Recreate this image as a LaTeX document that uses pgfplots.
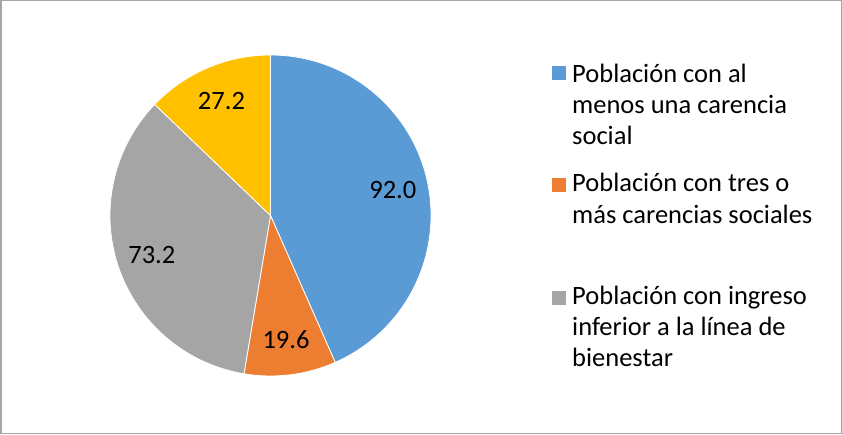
\documentclass[border=0pt]{standalone}
\usepackage{fontspec}
\setmainfont{Carlito}
\usepackage{pgfplots}
\usepackage{pgfplotstable}
\pgfplotsset{compat=1.18}

\definecolor{c0}{HTML}{5B9BD5}
\definecolor{c1}{HTML}{ED7D31}
\definecolor{c2}{HTML}{A5A5A5}
\definecolor{c3}{HTML}{FFC000}
\definecolor{frame}{HTML}{A6A6A6}

\pgfplotstableread{
value
92.0
19.6
73.2
27.2
}\piedata

\newcommand\bigfont{\fontsize{26.5}{31}\selectfont}

\begin{document}
\begin{tikzpicture}
% total of the slices
\def\total{0}
\pgfplotsforeachungrouped \i in {0,...,3}{%
  \pgfplotstablegetelem{\i}{value}\of\piedata
  \pgfmathsetmacro\total{\total+\pgfplotsretval}%
}
\def\cum{0}
\begin{axis}[scale only axis, width=842pt, height=434pt,
    xmin=0, xmax=842, ymin=0, ymax=434, axis lines=none, clip=false]
  \pgfplotsforeachungrouped \i in {0,...,3}{%
    \pgfplotstablegetelem{\i}{value}\of\piedata
    \let\v\pgfplotsretval
    \pgfmathsetmacro\a{90-360*(\cum/\total)}%
    \pgfmathsetmacro\b{90-360*((\cum+\v)/\total)}%
    \pgfmathsetmacro\m{(\a+\b)/2}%
    \edef\temp{%
      \noexpand\fill[fill=c\i, draw=white, line width=0.8pt]
        (axis cs:270.5,218.5) -- ([shift={(\a:160.5pt)}]axis cs:270.5,218.5)
        arc[start angle=\a, end angle=\b, radius=160.5pt] -- cycle;
      \noexpand\node[font=\noexpand\bigfont, inner sep=0pt]
        at ([shift={(\m:125pt)}]axis cs:270.5,218.5) {\v};
    }\temp
    \pgfmathsetmacro\cum{\cum+\v}%
  }
  % legend
  \fill[c0] (axis cs:552,354) rectangle (axis cs:566,368);
  \node[font=\bigfont, anchor=base west, inner sep=0pt] at (axis cs:572,351) {Población con al};
  \node[font=\bigfont, anchor=base west, inner sep=0pt] at (axis cs:572,320) {menos una carencia};
  \node[font=\bigfont, anchor=base west, inner sep=0pt] at (axis cs:572,289) {social};
  \fill[c1] (axis cs:552,242) rectangle (axis cs:566,256);
  \node[font=\bigfont, anchor=base west, inner sep=0pt] at (axis cs:572,242) {Población con tres o};
  \node[font=\bigfont, anchor=base west, inner sep=0pt] at (axis cs:572,211) {más carencias sociales};
  \fill[c2] (axis cs:552,129) rectangle (axis cs:566,143);
  \node[font=\bigfont, anchor=base west, inner sep=0pt] at (axis cs:572,130) {Población con ingreso};
  \node[font=\bigfont, anchor=base west, inner sep=0pt] at (axis cs:572,99) {inferior a la línea de};
  \node[font=\bigfont, anchor=base west, inner sep=0pt] at (axis cs:572,68) {bienestar};
  % chart area border
  \draw[frame, line width=1.5pt] (axis cs:0.75,0.75) rectangle (axis cs:841.25,433.25);
\end{axis}
\end{tikzpicture}
\end{document}
